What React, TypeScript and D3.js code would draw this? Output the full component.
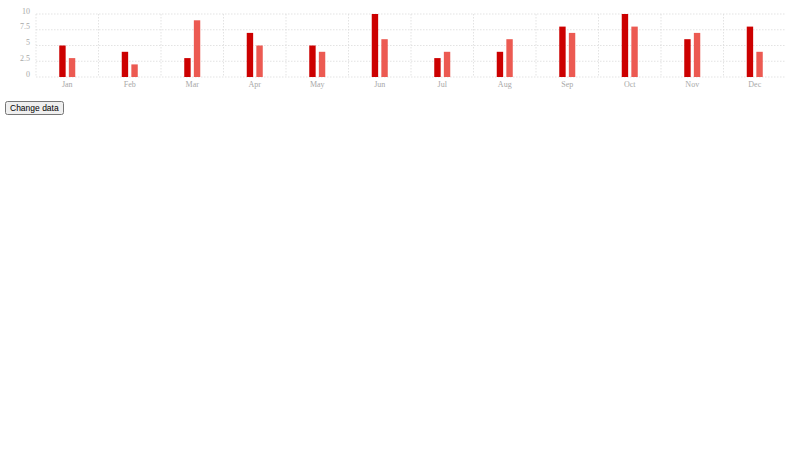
import { useEffect, useRef } from 'react';
import * as d3 from 'd3';

const months = ['Jan', 'Feb', 'Mar', 'Apr', 'May', 'Jun', 'Jul', 'Aug', 'Sep', 'Oct', 'Nov', 'Dec'];
const seriesA = [5, 4, 3, 7, 5, 10, 3, 4, 8, 10, 6, 8];
const seriesB = [3, 2, 9, 5, 4, 6, 4, 6, 7, 8, 7, 4];
const yTicks = [0, 2.5, 5, 7.5, 10];

const colors = ['#cc0000', '#ec5a52'];

function GroupedBars() {
  const svgRef = useRef<SVGSVGElement>(null);

  useEffect(() => {
    if (!svgRef.current) return;

    const width = 790;
    const height = 92;
    const margin = { top: 9, right: 9, bottom: 20, left: 31 };
    const innerWidth = width - margin.left - margin.right;
    const innerHeight = height - margin.top - margin.bottom;

    d3.select(svgRef.current).selectAll('*').remove();

    const svg = d3.select(svgRef.current)
      .attr('width', width)
      .attr('height', height);

    const g = svg.append('g')
      .attr('transform', `translate(${margin.left},${margin.top})`);

    const x = d3.scaleBand()
      .domain(months)
      .range([0, innerWidth]);

    const y = d3.scaleLinear()
      .domain([0, 10])
      .range([innerHeight, 0]);

    // grid
    g.append('g')
      .selectAll('line')
      .data(yTicks)
      .join('line')
      .attr('x1', 0)
      .attr('x2', innerWidth)
      .attr('y1', d => y(d))
      .attr('y2', d => y(d))
      .attr('stroke', '#dcdcdc')
      .attr('stroke-width', 0.8)
      .attr('stroke-dasharray', '1.5,1.5');

    g.append('g')
      .selectAll('line')
      .data(months)
      .join('line')
      .attr('x1', d => x(d) || 0)
      .attr('x2', d => x(d) || 0)
      .attr('y1', 0)
      .attr('y2', innerHeight)
      .attr('stroke', '#dcdcdc')
      .attr('stroke-width', 0.8)
      .attr('stroke-dasharray', '1.5,1.5');

    // y labels
    g.append('g')
      .selectAll('text')
      .data(yTicks)
      .join('text')
      .attr('x', -6)
      .attr('y', d => y(d) - 0.5)
      .attr('text-anchor', 'end')
      .style('font-family', '"Liberation Serif", serif')
      .style('font-size', '8px')
      .style('fill', '#a8a8a8')
      .text(d => String(d));

    // x labels
    g.append('g')
      .selectAll('text')
      .data(months)
      .join('text')
      .attr('x', d => (x(d) || 0) + x.bandwidth() / 2)
      .attr('y', innerHeight + 10)
      .attr('text-anchor', 'middle')
      .style('font-family', '"Liberation Serif", serif')
      .style('font-size', '8px')
      .style('fill', '#a8a8a8')
      .text(d => d);

    const barW = 6.4;
    const gap = 3.2;
    const series = [seriesA, seriesB];

    series.forEach((values, i) => {
      g.append('g')
        .selectAll('rect')
        .data(values)
        .join('rect')
        .attr('x', (_, j) => (x(months[j]) || 0) + x.bandwidth() / 2 + (i === 0 ? -gap / 2 - barW : gap / 2))
        .attr('y', d => y(d))
        .attr('width', barW)
        .attr('height', d => innerHeight - y(d))
        .attr('fill', colors[i]);
    });
  }, []);

  return <svg ref={svgRef} style={{ display: 'block' }}></svg>;
}

export default function App() {
  useEffect(() => {
    document.body.style.margin = '5px';
  }, []);

  return (
    <div>
      <GroupedBars />
      <button style={{ fontSize: '8.5px', padding: '0px 3px', fontFamily: 'Arial, sans-serif' }}>
        Change data
      </button>
    </div>
  );
}
